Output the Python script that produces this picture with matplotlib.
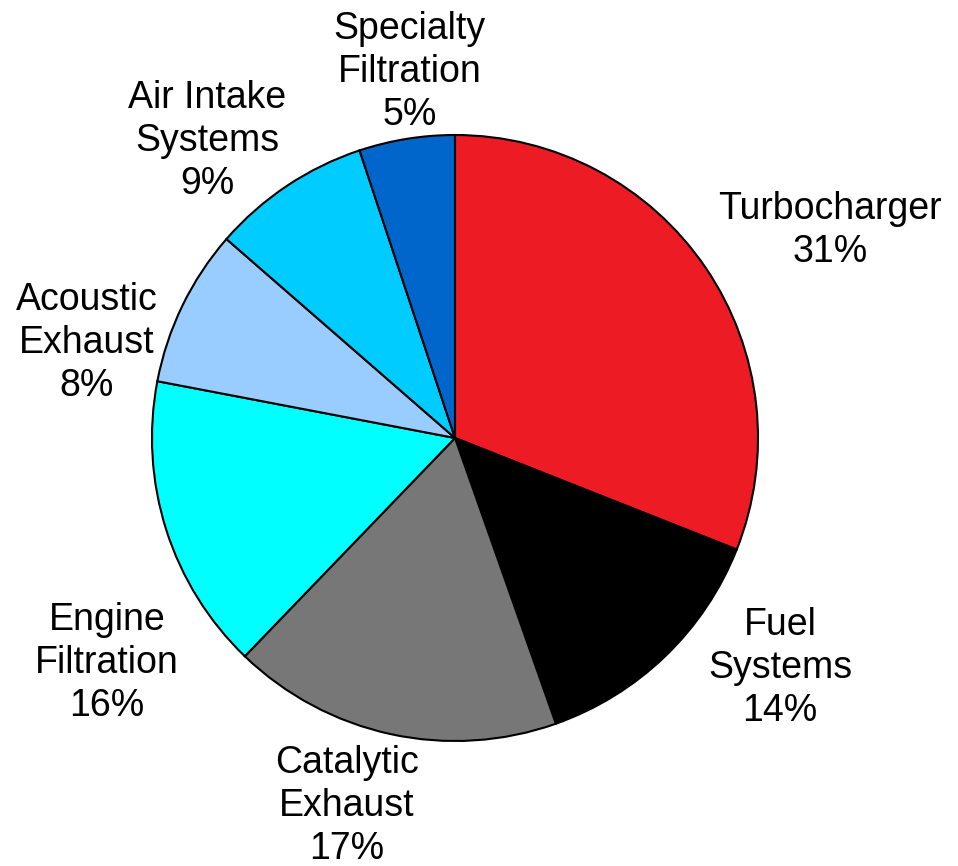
import numpy as np
import matplotlib.pyplot as plt

plt.rcParams['font.family'] = ['Liberation Sans', 'DejaVu Sans']

# data, clockwise from 12 o'clock
names = ["Turbocharger", "Fuel\nSystems", "Catalytic\nExhaust", "Engine\nFiltration",
         "Acoustic\nExhaust", "Air Intake\nSystems", "Specialty\nFiltration"]
shares = [31.0, 13.6, 17.6, 15.8, 8.4, 8.5, 5.1]   # slice sizes as drawn
pct_labels = [31, 14, 17, 16, 8, 9, 5]              # printed percentages
colors = ["#ED1C24", "#000000", "#777777", "#00FFFF", "#99CCFF", "#00CCFF", "#0066CC"]

# label positions in data units (pie radius = 1)
label_xy = [(1.238, 0.686), (1.073, -0.759), (-0.356, -1.215), (-1.149, -0.743),
            (-1.215, 0.314), (-0.818, 0.98), (-0.149, 1.208)]

fig = plt.figure(figsize=(9.58, 8.66), dpi=100)
ax = fig.add_axes([0, 0, 1, 1])

wedges, _ = ax.pie(shares, colors=colors, startangle=90, counterclock=False,
                   radius=1.0, wedgeprops=dict(edgecolor="black", linewidth=1.5))

for name, v, (x, y) in zip(names, pct_labels, label_xy):
    ax.text(x, y, f"{name}\n{v}%", ha="center", va="center", fontsize=27,
            linespacing=1.24, color="black")

# axes extent chosen so the pie sits at (455, 438) px with r ~303 px
r_px = 303.0
cx, cy = 455.0, 438.0
W, H = 958.0, 866.0
ax.set_xlim(-cx / r_px, (W - cx) / r_px)
ax.set_ylim(-(H - cy) / r_px, cy / r_px)
ax.set_aspect("equal")
ax.axis("off")

fig.savefig("out.png", dpi=100)
